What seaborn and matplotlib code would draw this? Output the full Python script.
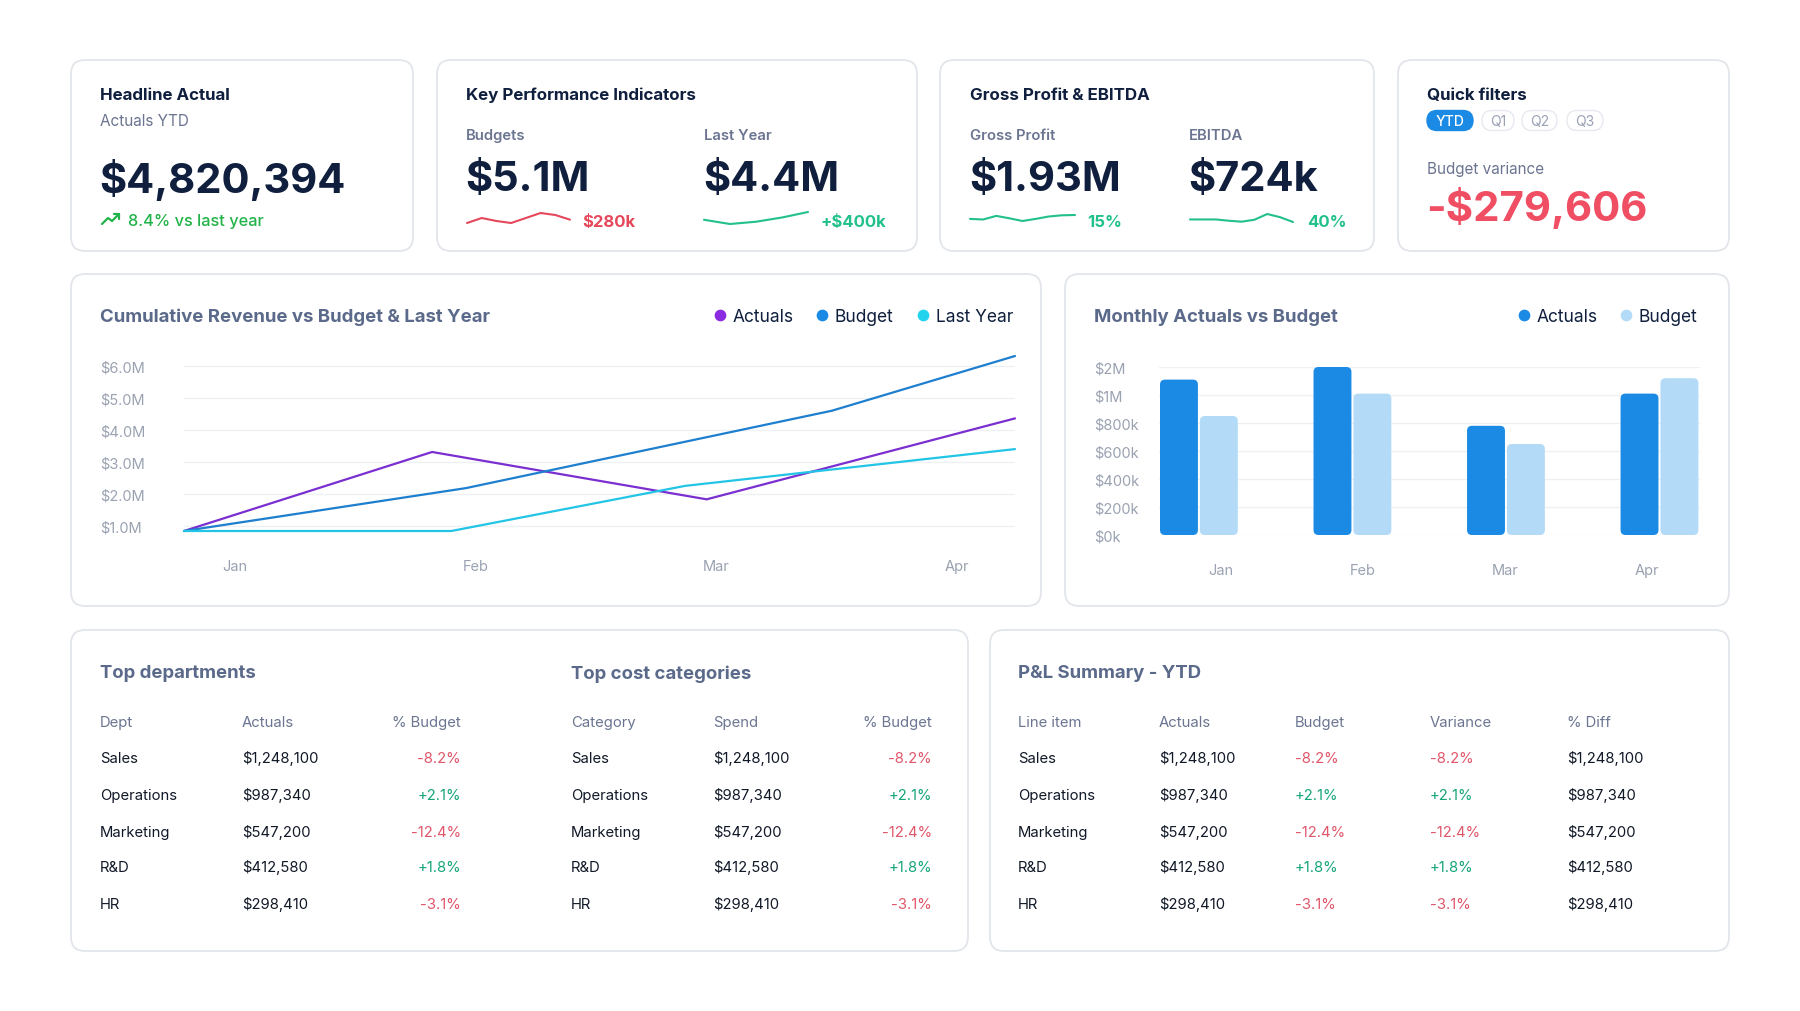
import numpy as np
import pandas as pd
import matplotlib
matplotlib.use("Agg")
import matplotlib.pyplot as plt
from matplotlib.patches import FancyBboxPatch
import seaborn as sns

# ------------------------------------------------------------------ data
months = ["Jan", "Feb", "Mar", "Apr"]

# cumulative revenue ($M); x positions in month units (Jan = 0)
cum_actual_x = [-0.21, 0.82, 1.96, 3.24]
cum_actual = [0.84, 3.31, 1.83, 4.36]
cum_budget_x = [-0.21, 0.96, 2.48, 3.24]
cum_budget = [0.84, 2.18, 4.60, 6.31]
cum_last_x = [-0.21, 0.90, 1.87, 3.24]
cum_last = [0.84, 0.84, 2.25, 3.40]
cum_ticks = [1.0, 2.0, 3.0, 4.0, 5.0, 6.0]
cum_tick_labels = ["$1.0M", "$2.0M", "$3.0M", "$4.0M", "$5.0M", "$6.0M"]

# monthly actuals vs budget ($)
monthly_actuals = [1110000, 1200000, 780000, 1010000]
monthly_budget = [850000, 1010000, 650000, 1120000]
bar_ticks = [0, 200000, 400000, 600000, 800000, 1000000, 1200000]
bar_tick_labels = ["$0k", "$200k", "$400k", "$600k", "$800k", "$1M", "$2M"]

# sparklines (relative values)
spark_budget = [8, 23, 14, 8, 23, 38, 32, 18]
spark_last_year = [18, 5, 12, 25, 42]
spark_gross = [20, 18, 30, 22, 13, 20, 28, 32, 33]
spark_ebitda = [18, 18, 18, 14, 11, 17, 35, 25, 10]

# tables
row_names = ["Sales", "Operations", "Marketing", "R&D", "HR"]
row_amounts = ["$1,248,100", "$987,340", "$547,200", "$412,580", "$298,410"]
row_pct = ["-8.2%", "+2.1%", "-12.4%", "+1.8%", "-3.1%"]

# ------------------------------------------------------------------ style
sns.set_theme(style="white")
plt.rcParams["font.family"] = ["Inter", "DejaVu Sans"]

NAVY = "#0f1f3d"
SLATE = "#5b6a8a"
GRAY = "#6b7591"
TICK = "#9aa2b1"
RED = "#e5485b"
RED2 = "#ef4e63"
GREEN = "#22b34a"
TEAL = "#22c08b"
TRED = "#e0566a"
TGREEN = "#16a57a"
BORDER = "#e2e5ea"
GRID = "#eef0f3"
C_ACT = "#7b2fd1"
C_BUD = "#1f7fcf"
C_LY = "#22c5e5"
B_ACT = "#1a8ae5"
B_BUD = "#b3dbf7"

W, H = 1800, 1012
fig = plt.figure(figsize=(18, 10.12), dpi=100)
fig.patch.set_facecolor("white")


def px_axes(x0, y0, x1, y1):
    ax = fig.add_axes([x0 / W, 1 - y1 / H, (x1 - x0) / W, (y1 - y0) / H])
    ax.set_facecolor("none")
    return ax


bg = fig.add_axes([0, 0, 1, 1])
bg.set_xlim(0, W)
bg.set_ylim(H, 0)
bg.axis("off")


def card(x0, y0, x1, y1):
    bg.add_patch(FancyBboxPatch((x0, y0), x1 - x0, y1 - y0,
                                boxstyle="round,pad=0,rounding_size=14",
                                fc="white", ec=BORDER, lw=1.3))


DY = 2


def T(x, y, s, size, color, weight="normal", ha="left", va="center"):
    bg.text(x, y + DY, s, fontsize=size, color=color, fontweight=weight,
            ha=ha, va=va)


# ------------------------------------------------------------------ cards
card(71, 61, 413, 252)
card(437, 61, 917, 252)
card(940, 61, 1374, 252)
card(1398, 61, 1729, 252)
card(71, 275, 1041, 607)
card(1065, 275, 1729, 607)
card(71, 631, 968, 952)
card(990, 631, 1729, 952)

BIG_Y = 177.5

# card 1
T(100, 93, "Headline Actual", 12.2, NAVY, "bold")
T(100, 119, "Actuals YTD", 11, GRAY)
T(99, BIG_Y, "$4,820,394", 30, NAVY, "bold")
bg.plot([102, 108, 112, 119], [225, 219, 222, 215], color=GREEN, lw=1.6,
        solid_capstyle="round", solid_joinstyle="round")
bg.plot([114, 119, 119], [215, 215, 220], color=GREEN, lw=1.6,
        solid_capstyle="round", solid_joinstyle="round")
T(128, 219, "8.4% vs last year", 11.8, GREEN, "medium")

# card 2
T(466, 93, "Key Performance Indicators", 12.2, NAVY, "bold")
T(466, 134, "Budgets", 10.7, GRAY, "semibold")
T(704, 134, "Last Year", 10.7, GRAY, "semibold")
T(465, BIG_Y, "$5.1M", 30, NAVY, "bold")
T(703, BIG_Y, "$4.4M", 30, NAVY, "bold")
T(582, 220, "$280k", 12, RED, "bold")
T(820, 220, "+$400k", 12, TEAL, "bold")

# card 3
T(970, 93, "Gross Profit & EBITDA", 12.2, NAVY, "bold")
T(970, 134, "Gross Profit", 10.7, GRAY, "semibold")
T(1189, 134, "EBITDA", 10.7, GRAY, "semibold")
T(969, BIG_Y, "$1.93M", 30, NAVY, "bold")
T(1188, BIG_Y, "$724k", 30, NAVY, "bold")
T(1087, 220, "15%", 12, TEAL, "bold")
T(1307, 220, "40%", 12, TEAL, "bold")

# card 4
T(1427, 93, "Quick filters", 12.2, NAVY, "bold")
pills = [("YTD", 1427, 1473, True), ("Q1", 1482, 1514, False),
         ("Q2", 1522, 1557, False), ("Q3", 1567, 1603, False)]
for lab, a, b, on in pills:
    bg.add_patch(FancyBboxPatch((a, 111.5), b - a, 20,
                                boxstyle="round,pad=0,rounding_size=10",
                                fc=B_ACT if on else "white",
                                ec=B_ACT if on else "#e6e9ef", lw=1.0))
    T((a + b) / 2, 120, lab, 10, "white" if on else "#9aa1b5",
      "medium" if on else "normal", ha="center")
T(1427, 167, "Budget variance", 11, GRAY)
T(1426, 206, "-$279,606", 30.2, RED2, "bold")


# ------------------------------------------------------------------ sparklines
def spark(values, x0, y0, x1, y1, color):
    ax = px_axes(x0, y0, x1, y1)
    d = pd.DataFrame({"i": np.arange(len(values)), "v": values})
    sns.lineplot(data=d, x="i", y="v", ax=ax, color=color, lw=1.5)
    ax.set_xlim(0, len(values) - 1)
    ax.set_ylim(min(values), max(values))
    ax.axis("off")
    for ln in ax.lines:
        ln.set_clip_on(False)
        ln.set_solid_capstyle("round")


spark(spark_budget, 467, 214, 570, 224, RED)
spark(spark_last_year, 704, 213, 808, 225, TEAL)
spark(spark_gross, 970, 216, 1075, 222, TEAL)
spark(spark_ebitda, 1190, 215, 1293, 223, TEAL)

# ------------------------------------------------------------------ cumulative line chart
T(100, 315, "Cumulative Revenue vs Budget & Last Year", 13.4, SLATE, "bold")
for (x, lab, col) in [(720, "Actuals", "#8a2be2"), (822, "Budget", B_ACT),
                      (923, "Last Year", "#22d3ee")]:
    bg.scatter([x], [316], s=55, color=col, zorder=3)
    T(x + 13, 315, lab, 12.5, NAVY)

cum_df = pd.concat([
    pd.DataFrame({"x": cum_actual_x, "v": cum_actual, "s": "Actuals"}),
    pd.DataFrame({"x": cum_budget_x, "v": cum_budget, "s": "Budget"}),
    pd.DataFrame({"x": cum_last_x, "v": cum_last, "s": "Last Year"}),
])
ax1 = px_axes(184, 357, 1015, 532)
sns.lineplot(data=cum_df, x="x", y="v", hue="s", ax=ax1, sort=False,
             estimator=None, legend=False, lw=1.6,
             palette={"Actuals": C_ACT, "Budget": C_BUD, "Last Year": C_LY})
ax1.set_xlim(cum_df["x"].min(), cum_df["x"].max())
ax1.set_ylim(cum_df["v"].min(), cum_df["v"].max())
for ln in ax1.lines:
    ln.set_clip_on(False)
ax1.set_yticks(cum_ticks, cum_tick_labels)
ax1.set_xticks(range(len(months)), months)
ax1.grid(axis="y", color=GRID, lw=1)
ax1.grid(axis="x", visible=False)
ax1.set_axisbelow(True)
for sp in ax1.spines.values():
    sp.set_visible(False)
ax1.tick_params(axis="y", length=0, pad=60.5, labelsize=10.5, labelcolor=TICK)
ax1.tick_params(axis="x", length=0, pad=20, labelsize=10.5, labelcolor=TICK)
for lab in ax1.get_yticklabels():
    lab.set_ha("left")
ax1.set_xlabel("")
ax1.set_ylabel("")

# ------------------------------------------------------------------ monthly bar chart
T(1094, 315, "Monthly Actuals vs Budget", 13.4, SLATE, "bold")
for (x, lab, col) in [(1524, "Actuals", B_ACT), (1626, "Budget", B_BUD)]:
    bg.scatter([x], [316], s=55, color=col, zorder=3)
    T(x + 13, 315, lab, 12.5, NAVY)

bar_df = pd.concat([
    pd.DataFrame({"m": months, "v": monthly_actuals, "s": "Actuals"}),
    pd.DataFrame({"m": months, "v": monthly_budget, "s": "Budget"}),
])
ax2 = px_axes(1159, 368, 1700, 536)
sns.barplot(data=bar_df, x="m", y="v", hue="s", ax=ax2, width=0.52, gap=0.05,
            palette={"Actuals": B_ACT, "Budget": B_BUD}, saturation=1,
            legend=False, errorbar=None)
ax2.set_xlim(-0.26, 3.264)
ax2.set_ylim(bar_ticks[0], bar_ticks[-1])
ax2.set_yticks(bar_ticks, bar_tick_labels)
ax2.set_xticks(np.arange(len(months)) * 0.925 + 0.143, months)
ax2.grid(axis="y", color=GRID, lw=1)
ax2.grid(axis="x", visible=False)
ax2.set_axisbelow(True)
for sp in ax2.spines.values():
    sp.set_visible(False)
ax2.tick_params(axis="y", length=0, pad=47, labelsize=10.5, labelcolor=TICK)
ax2.tick_params(axis="x", length=0, pad=20, labelsize=10.5, labelcolor=TICK)
for lab in ax2.get_yticklabels():
    lab.set_ha("left")
ax2.set_xlabel("")
ax2.set_ylabel("")

# rounded bars
x_per_px = (3.264 + 0.26) / (1700 - 1159)
y_per_px = (bar_ticks[-1] - bar_ticks[0]) / (536 - 368)
rects = list(ax2.patches)
for r in rects:
    x, y, w, h = r.get_x(), r.get_y(), r.get_width(), r.get_height()
    fc = r.get_facecolor()
    r.remove()
    ax2.add_patch(FancyBboxPatch((x, y), w, h,
                                 boxstyle=f"round,pad=0,rounding_size={5 * x_per_px}",
                                 mutation_aspect=y_per_px / x_per_px,
                                 fc=fc, ec="none", clip_on=False))

# ------------------------------------------------------------------ tables
row_y = [757, 794, 831, 866, 903]
HEAD_Y = 721
FS = 10.7


def pct_color(s):
    return TGREEN if s.startswith("+") else TRED


T(100, 672, "Top departments", 13.4, SLATE, "bold")
T(100, HEAD_Y, "Dept", FS, GRAY)
T(242, HEAD_Y, "Actuals", FS, GRAY)
T(461, HEAD_Y, "% Budget", FS, GRAY, ha="right")
for yy, n, a, p in zip(row_y, row_names, row_amounts, row_pct):
    T(100, yy, n, FS, "#111827")
    T(242, yy, a, FS, "#111827")
    T(461, yy, p, FS, pct_color(p), ha="right")

T(571, 672, "Top cost categories", 13.4, SLATE, "bold")
T(571, HEAD_Y, "Category", FS, GRAY)
T(713, HEAD_Y, "Spend", FS, GRAY)
T(932, HEAD_Y, "% Budget", FS, GRAY, ha="right")
for yy, n, a, p in zip(row_y, row_names, row_amounts, row_pct):
    T(571, yy, n, FS, "#111827")
    T(713, yy, a, FS, "#111827")
    T(932, yy, p, FS, pct_color(p), ha="right")

T(1018, 672, "P&L Summary - YTD", 13.4, SLATE, "bold")
cols = [1018, 1159, 1295, 1430, 1567]
for cx, hd in zip(cols, ["Line item", "Actuals", "Budget", "Variance", "% Diff"]):
    T(cx, HEAD_Y, hd, FS, GRAY)
for yy, n, a, p in zip(row_y, row_names, row_amounts, row_pct):
    T(cols[0], yy, n, FS, "#111827")
    T(cols[1], yy, a, FS, "#111827")
    T(cols[2], yy, p, FS, pct_color(p))
    T(cols[3], yy, p, FS, pct_color(p))
    T(cols[4], yy, a, FS, "#111827")

fig.savefig("out.png", dpi=100, facecolor="white")
